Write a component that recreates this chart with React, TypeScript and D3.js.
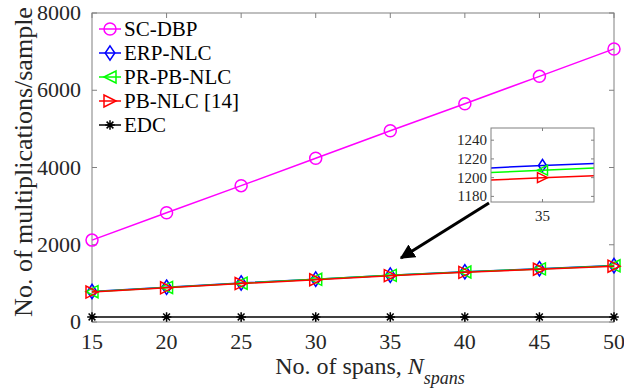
import React from "react";
import * as d3 from "d3";

// number of spans
const spans = [15, 20, 25, 30, 35, 40, 45, 50];

// multiplications per sample
const scDbp = [2120, 2830, 3530, 4240, 4950, 5650, 6360, 7070];
const erpNlc = [790, 900, 1010, 1110, 1213, 1300, 1380, 1460];
const prPbNlc = [785, 895, 1005, 1105, 1208, 1295, 1375, 1455];
const pbNlc = [775, 885, 995, 1095, 1200, 1285, 1365, 1445];
const edc = [130, 130, 130, 130, 130, 130, 130, 130];

const yTicks = [0, 2000, 4000, 6000, 8000];
const insetYTicks = [1180, 1200, 1220, 1240];
const insetXTicks = [35];

const legendNames = ["SC-DBP", "ERP-NLC", "PR-PB-NLC", "PB-NLC [14]", "EDC"];

type Series = { name: string; values: number[]; color: string; marker: string };

const series: Series[] = [
  { name: legendNames[0], values: scDbp, color: "#ff00ff", marker: "circle" },
  { name: legendNames[1], values: erpNlc, color: "#0000ff", marker: "diamond" },
  { name: legendNames[2], values: prPbNlc, color: "#00ff00", marker: "left" },
  { name: legendNames[3], values: pbNlc, color: "#ff0000", marker: "right" },
  { name: legendNames[4], values: edc, color: "#000000", marker: "star" },
];

const FONT = "'Liberation Serif', Tinos, 'Times New Roman', Times, 'DejaVu Serif', serif";
const AXIS = "#808080";
const TXT = "#262626";

const Marker: React.FC<{ kind: string; x: number; y: number; color: string; s?: number }> = ({
  kind,
  x,
  y,
  color,
  s = 6,
}) => {
  const common = { fill: "none", stroke: color, strokeWidth: 1.5 };
  if (kind === "circle") return <circle cx={x} cy={y} r={s} {...common} />;
  if (kind === "diamond")
    return (
      <path
        d={`M${x},${y - s * 1.2}L${x + s * 0.8},${y}L${x},${y + s * 1.2}L${x - s * 0.8},${y}Z`}
        {...common}
      />
    );
  if (kind === "left")
    return <path d={`M${x - s},${y}L${x + s},${y - s}L${x + s},${y + s}Z`} {...common} />;
  if (kind === "right")
    return <path d={`M${x + s},${y}L${x - s},${y - s}L${x - s},${y + s}Z`} {...common} />;
  // asterisk
  const r = s * 0.8;
  const lines = [0, 45, 90, 135].map((a) => {
    const rad = (a * Math.PI) / 180;
    return `M${x - r * Math.cos(rad)},${y - r * Math.sin(rad)}L${x + r * Math.cos(rad)},${y + r * Math.sin(rad)}`;
  });
  return <path d={lines.join("")} fill="none" stroke={color} strokeWidth={1.5} />;
};

export default function App() {
  const width = 624;
  const height = 391;
  const m = { left: 92, right: 614, top: 13, bottom: 322 };

  const x = d3.scaleLinear().domain([15, 50]).range([m.left, m.right]);
  const y = d3.scaleLinear().domain([0, 8000]).range([m.bottom, m.top]);

  const line = (vals: number[]) =>
    d3
      .line<number>()
      .x((_, i) => x(spans[i]))
      .y((d) => y(d))(vals) ?? "";

  // inset
  const ib = { left: 491, right: 594, top: 128, bottom: 202 };
  const ix = d3.scaleLinear().domain([34.875, 35.125]).range([ib.left, ib.right]);
  const iy = d3.scaleLinear().domain([1174, 1253]).range([ib.bottom, ib.top]);
  const insetLine = (vals: number[]) =>
    d3
      .line<number>()
      .x((_, i) => ix(spans[i]))
      .y((d) => iy(d))(vals) ?? "";

  const tickLen = 5;
  const ts = { fontFamily: FONT };

  return (
    <svg
      width={width}
      height={height}
      style={{ position: "absolute", left: 0, top: 0, background: "#fff", fontFamily: FONT }}
    >
      <defs>
        <clipPath id="insetClip">
          <rect x={ib.left} y={ib.top} width={ib.right - ib.left} height={ib.bottom - ib.top} />
        </clipPath>
        <marker id="arrow" viewBox="0 0 10 10" refX="9" refY="5" markerWidth="5" markerHeight="5" orient="auto">
          <path d="M0,0L10,5L0,10Z" fill="#000" />
        </marker>
      </defs>

      {/* axes box */}
      <rect
        x={m.left}
        y={m.top}
        width={m.right - m.left}
        height={m.bottom - m.top}
        fill="none"
        stroke={AXIS}
        strokeWidth={1}
      />
      {spans.map((t) => (
        <g key={`xt${t}`}>
          <line x1={x(t)} x2={x(t)} y1={m.bottom} y2={m.bottom - tickLen} stroke={AXIS} />
          <line x1={x(t)} x2={x(t)} y1={m.top} y2={m.top + tickLen} stroke={AXIS} />
          <text style={ts} x={x(t)} y={m.bottom + 27} textAnchor="middle" fontSize={22} fill={TXT}>
            {t}
          </text>
        </g>
      ))}
      {yTicks.map((t) => (
        <g key={`yt${t}`}>
          <line x1={m.left} x2={m.left + tickLen} y1={y(t)} y2={y(t)} stroke={AXIS} />
          <line x1={m.right} x2={m.right - tickLen} y1={y(t)} y2={y(t)} stroke={AXIS} />
          <text style={ts} x={m.left - 11} y={y(t) + 7} textAnchor="end" fontSize={22} fill={TXT}>
            {t}
          </text>
        </g>
      ))}

      {/* axis titles */}
      <text style={ts} x={370} y={374} textAnchor="middle" fontSize={24} fill={TXT}>
        No. of spans,{" "}
        <tspan fontStyle="italic">N</tspan>
        <tspan fontStyle="italic" fontSize={18} dy={10}>
          spans
        </tspan>
      </text>
      <text
        style={ts}
        transform={`translate(32,162) rotate(-90)`}
        textAnchor="middle"
        fontSize={26}
        fill={TXT}
      >
        No. of multiplications/sample
      </text>

      {/* series */}
      {series.map((s) => (
        <g key={s.name}>
          <path d={line(s.values)} fill="none" stroke={s.color} strokeWidth={1.5} />
          {s.values.map((v, i) => (
            <Marker key={i} kind={s.marker} x={x(spans[i])} y={y(v)} color={s.color} />
          ))}
        </g>
      ))}

      {/* legend */}
      {series.map((s, i) => {
        const ly = 29 + i * 24;
        return (
          <g key={`lg${s.name}`}>
            <line x1={99} x2={121} y1={ly} y2={ly} stroke={s.color} strokeWidth={1.5} />
            <Marker kind={s.marker} x={110} y={ly} color={s.color} />
            <text style={ts} x={124} y={ly + 7} fontSize={21} fill="#000">
              {s.name}
            </text>
          </g>
        );
      })}

      {/* inset */}
      <rect x={ib.left} y={ib.top} width={ib.right - ib.left} height={ib.bottom - ib.top} fill="#fff" />
      <g clipPath="url(#insetClip)">
        {series.slice(1, 4).map((s) => (
          <g key={`in${s.name}`}>
            <path d={insetLine(s.values)} fill="none" stroke={s.color} strokeWidth={1.5} />
            {s.values.map((v, i) => (
              <Marker key={i} kind={s.marker} x={ix(spans[i])} y={iy(v)} color={s.color} s={5} />
            ))}
          </g>
        ))}
      </g>
      <rect
        x={ib.left}
        y={ib.top}
        width={ib.right - ib.left}
        height={ib.bottom - ib.top}
        fill="none"
        stroke={AXIS}
      />
      {insetYTicks.map((t) => (
        <g key={`iyt${t}`}>
          <line x1={ib.left} x2={ib.left + 3} y1={iy(t)} y2={iy(t)} stroke={AXIS} />
          <line x1={ib.right} x2={ib.right - 3} y1={iy(t)} y2={iy(t)} stroke={AXIS} />
          <text style={ts} x={ib.left - 4} y={iy(t) + 5} textAnchor="end" fontSize={15} fill={TXT}>
            {t}
          </text>
        </g>
      ))}
      {insetXTicks.map((t) => (
        <g key={`ixt${t}`}>
          <line x1={ix(t)} x2={ix(t)} y1={ib.bottom} y2={ib.bottom - 3} stroke={AXIS} />
          <line x1={ix(t)} x2={ix(t)} y1={ib.top} y2={ib.top + 3} stroke={AXIS} />
          <text style={ts} x={ix(t)} y={ib.bottom + 19} textAnchor="middle" fontSize={15} fill={TXT}>
            {t}
          </text>
        </g>
      ))}

      {/* arrow */}
      <line x1={489} y1={203} x2={401} y2={258} stroke="#000" strokeWidth={3} markerEnd="url(#arrow)" />
    </svg>
  );
}
